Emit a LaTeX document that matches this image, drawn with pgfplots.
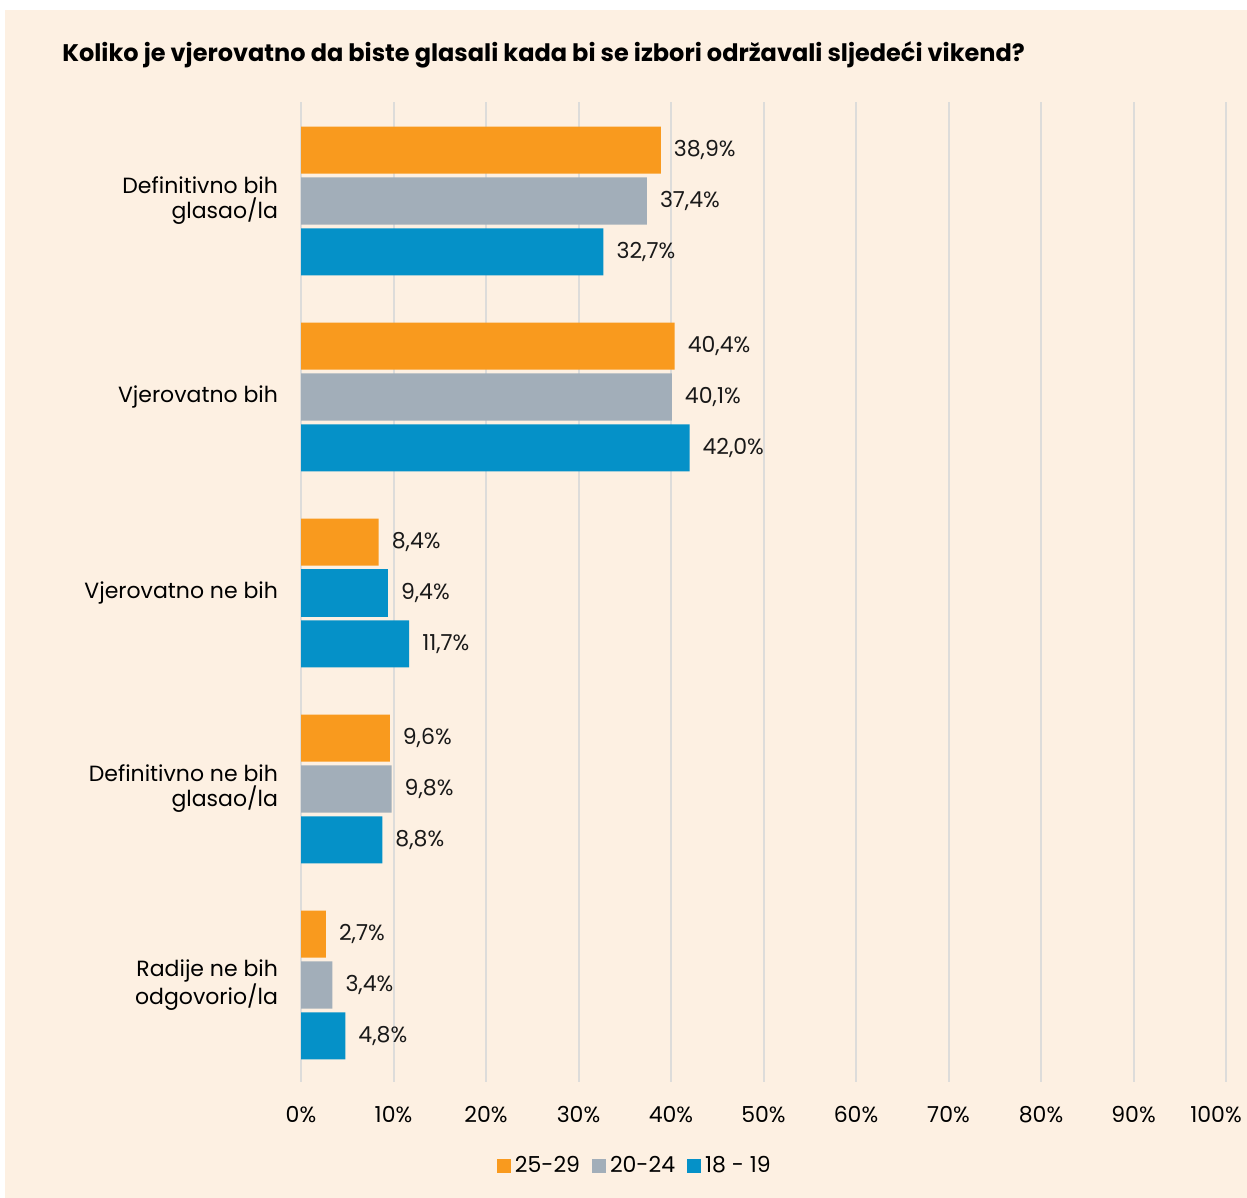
\documentclass[border=0pt]{standalone}
\usepackage{pgfplots}
\pgfplotsset{compat=1.18}
\usepackage{fontspec}
\setmainfont{Poppins}
\definecolor{bg}{HTML}{FDF0E2}
\definecolor{orng}{HTML}{F99A1E}
\definecolor{gry}{HTML}{A2AEB9}
\definecolor{blu}{HTML}{0591C8}
\definecolor{grd}{HTML}{DDDCDA}

\pgfplotstableread{
y val
0 38.9
1 40.4
2 8.4
3 9.6
4 2.7
}\olds
\pgfplotstableread{
y val
0 37.4
1 40.1
3 9.8
4 3.4
}\mids
\pgfplotstableread{
y val
0 32.7
1 42.0
2 11.7
3 8.8
4 4.8
}\young

\begin{document}
\begin{tikzpicture}
  % page and background (1px = 0.5pt)
  \useasboundingbox (0pt,0pt) rectangle (623.5pt,599pt);
  \fill[white] (0pt,0pt) rectangle (623.5pt,599pt);
  \fill[bg] (2.5pt,0pt) rectangle (623.5pt,594pt);
  \node[anchor=west,inner sep=0pt,font=\bfseries\fontsize{12}{14}\selectfont] at (31pt,571.5pt) {Koliko je vjerovatno da biste glasali kada bi se izbori održavali sljedeći vikend?};
  \begin{axis}[
    at={(150.5pt,58pt)}, anchor=south west,
    width=462.5pt, height=490pt,
    scale only axis,
    xbar,
    y dir=reverse,
    xmin=0, xmax=100,
    ymin=-0.505, ymax=4.495,
    bar width=0.24,
    axis line style={draw=none},
    major tick length=0pt,
    xtick={0,10,...,90},
    extra x ticks={100},
    extra x tick style={xmajorgrids=true, xticklabel style={xshift=-5pt}},
    xticklabel={\pgfmathprintnumber{\tick}\%},
    xticklabel style={font=\fontsize{11}{13}\selectfont, yshift=-8.5pt},
    /pgf/number format/assume math mode=true,
    xmajorgrids,
    major grid style={grd, line width=1pt},
    ytick={0,1,2,3,4},
    yticklabels={{Definitivno bih\\glasao/la},{Vjerovatno bih},{Vjerovatno ne bih},{Definitivno ne bih\\glasao/la},{Radije ne bih\\odgovorio/la}},
    yticklabel style={font=\fontsize{11}{12.5}\selectfont, align=right, xshift=-8pt},
    nodes near coords={\pgfmathprintnumber[fixed,zerofill,precision=1,use comma]{\pgfplotspointmeta}\%},
    nodes near coords style={font=\fontsize{11}{13}\selectfont, anchor=west, xshift=3pt, text=black!90},
    every axis plot/.append style={draw=none},
    legend style={at={(0.362,-0.086)}, anchor=center, draw=none, fill=none,
      legend columns=3, font=\fontsize{11}{13}\selectfont,
      /tikz/every even column/.append style={column sep=4pt}},
    legend image code/.code={\fill[#1] (0pt,-3.5pt) rectangle (7pt,3.5pt);},
  ]
    \addplot[fill=orng, bar shift=-0.26] table[x=val,y=y] {\olds};
    \addlegendentry{25-29}
    \addplot[fill=gry, bar shift=0] table[x=val,y=y] {\mids};
    \addlegendentry{20-24}
    \addplot[fill=blu, bar shift=0.26] table[x=val,y=y] {\young};
    \addlegendentry{18 - 19}
    % the middle bar of the third group is blue in the original
    \addplot[fill=blu, bar shift=0, forget plot] coordinates {(9.4,2)};
  \end{axis}
\end{tikzpicture}
\end{document}
